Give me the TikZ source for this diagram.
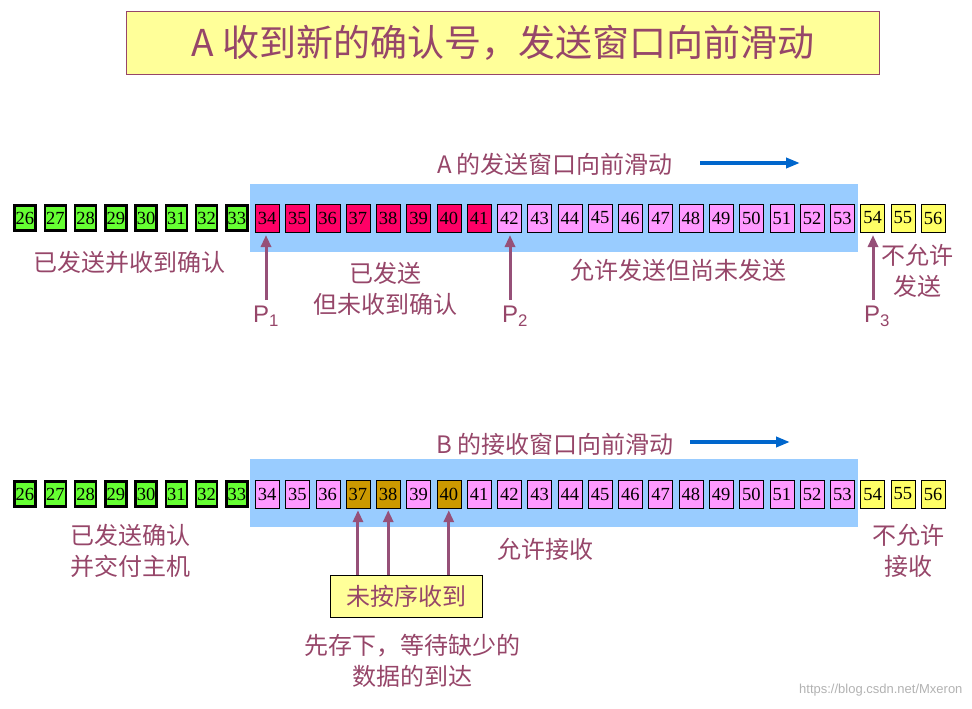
\documentclass[tikz,border=0pt]{standalone}
\usepackage{fontspec}
\setmainfont{Liberation Serif}
\setsansfont{Liberation Sans}
\newfontfamily\cjk{Noto Sans CJK SC}
\usetikzlibrary{arrows.meta}
\definecolor{txt}{RGB}{150,70,105}
\definecolor{arr}{RGB}{150,80,120}
\definecolor{band}{RGB}{153,204,255}
\definecolor{cg}{RGB}{102,255,51}
\definecolor{cr}{RGB}{255,0,102}
\definecolor{cp}{RGB}{255,153,255}
\definecolor{cy}{RGB}{255,255,102}
\definecolor{co}{RGB}{204,153,0}
\definecolor{ttl}{RGB}{255,255,153}
\begin{document}
\begin{tikzpicture}[x=1pt,y=-1pt,
 cell/.style={draw=black,minimum width=24pt,minimum height=28pt,inner sep=0pt,font=\fontsize{18.5}{18.5}\selectfont},
 g/.style={cell,fill=cg,line width=2.5pt,minimum width=21pt,minimum height=25pt},
 lbl/.style={text=txt,font=\cjk\fontsize{24}{31}\selectfont,align=center},
 pl/.style={text=txt,font=\sffamily\fontsize{24}{24}\selectfont},
 up/.style={draw=arr,line width=3pt,-{Triangle[length=12pt,width=10pt]}},
 blue/.style={draw={rgb,255:red,0;green,102;blue,204},line width=3.5pt,-{Triangle[length=14pt,width=10pt]}}]
\useasboundingbox (0,0) rectangle (972,709);
\node[draw=txt,fill=ttl,minimum width=753pt,minimum height=63pt,text=txt,font=\cjk\fontsize{37}{37}\selectfont] (title) at (503,43) {A 收到新的确认号，发送窗口向前滑动};
\fill[band] (250,184) rectangle (858,252);
\fill[band] (250,459) rectangle (858,527);
\foreach \r/\y in {a/218,b/494}{
 \foreach \n in {26,...,56}{
  \pgfmathsetmacro{\xx}{25+(\n-26)*30.27}
  \ifnum\n<34 \node[g] (\r\n) at (\xx,\y) {\n};
  \else\ifnum\n>53 \node[cell,fill=cy] (\r\n) at (\xx,\y) {\n};
  \else \node[cell,fill=cp] (\r\n) at (\xx,\y) {\n};\fi\fi
 }}
\foreach \n in {34,...,41}{\node[cell,fill=cr] at (a\n) {\n};}
\foreach \n in {37,38,40}{\node[cell,fill=co] at (b\n) {\n};}
% row 1 labels
\node[lbl] (t1) at (555,164) {A 的发送窗口向前滑动};
\coordinate (b1s) at (700,163); \coordinate (b1e) at (800,163);
\draw[blue] (b1s) -- (b1e);
\node[lbl] (l1) at (130,262) {已发送并收到确认};
\node[lbl] (l2) at (385,289) {已发送\\但未收到确认};
\node[lbl] (l3) at (678,270) {允许发送但尚未发送};
\node[lbl] (l4) at (917,271) {不允许\\发送};
\node[pl] (p1) at (266,316) {P\textsubscript{1}};
\node[pl] (p2) at (515,316) {P\textsubscript{2}};
\node[pl] (p3) at (877,316) {P\textsubscript{3}};
\coordinate (q1) at (266,300); \coordinate (q2) at (510,300); \coordinate (q3) at (873,300);
\draw[up] (q1) -- (266,235);
\draw[up] (q2) -- (510,235);
\draw[up] (q3) -- (873,235);
% row 2
\node[lbl] (t2) at (555,444) {B 的接收窗口向前滑动};
\coordinate (b2s) at (690,442); \coordinate (b2e) at (790,442);
\draw[blue] (b2s) -- (b2e);
\node[lbl] (m1) at (130,551) {已发送确认\\并交付主机};
\node[lbl] (m2) at (545,549) {允许接收};
\node[lbl] (m3) at (908,551) {不允许\\接收};
\node[lbl,draw=black,fill=ttl,minimum width=152pt,minimum height=42pt] (box) at (406,596) {未按序收到};
\draw[up] (box.north -| b37) -- ([yshift=-2pt]b37.south);
\draw[up] (box.north -| b38) -- ([yshift=-2pt]b38.south);
\draw[up] (box.north -| b40) -- ([yshift=-2pt]b40.south);
\node[lbl] (m4) at (412,661) {先存下，等待缺少的\\数据的到达};
\node[text=gray!60,font=\fontsize{13}{13}\selectfont\sffamily,anchor=east] (wm) at (966,690) {https://blog.csdn.net/Mxeron};
\end{tikzpicture}
\end{document}
